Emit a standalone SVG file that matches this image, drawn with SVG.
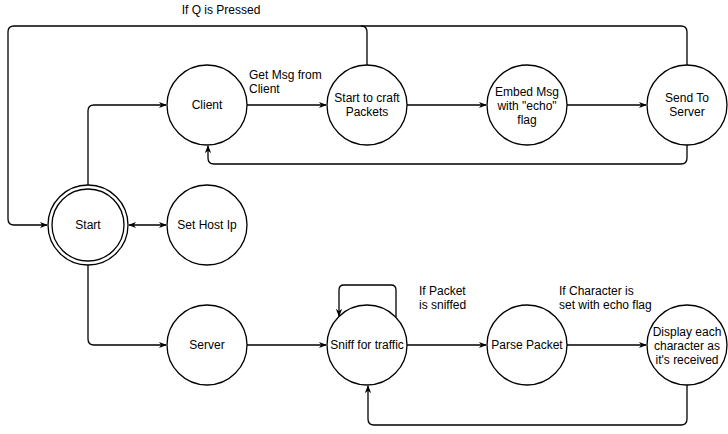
<svg xmlns="http://www.w3.org/2000/svg" width="728" height="434" viewBox="0 0 728 434">
<style>
.n{fill:#fff;stroke:#000;stroke-width:1.3}
.c{fill:none;stroke:#000;stroke-width:1.3}
text{font-family:"Liberation Sans",Arial,sans-serif;font-size:12px;fill:#000}
.m{text-anchor:middle}
</style>
<defs>
<marker id="a" viewBox="0 0 10 10" refX="9" refY="5" markerWidth="8" markerHeight="8" markerUnits="userSpaceOnUse" orient="auto-start-reverse">
<path d="M0,1 L10,5 L0,9 L3,5 Z" fill="#000"/>
</marker>
</defs>
<rect width="728" height="434" fill="#fff"/>
<g id="connectors">
<path class="c" d="M88,185 V111 Q88,105 94,105 H166" marker-end="url(#a)"/>
<path class="c" d="M88,265 V339 Q88,345 94,345 H166" marker-end="url(#a)"/>
<path class="c" d="M129,225 H166" marker-start="url(#a)" marker-end="url(#a)"/>
<path class="c" d="M247,105 H326" marker-end="url(#a)"/>
<path class="c" d="M407,105 H486" marker-end="url(#a)"/>
<path class="c" d="M567,105 H646" marker-end="url(#a)"/>
<path class="c" d="M687,145 V158 Q687,164 681,164 H214 Q208,164 208,158 V146" marker-end="url(#a)"/>
<path class="c" d="M367,65 V32 Q367,26 361,26 H14 Q8,26 8,32 V219 Q8,225 14,225 H47" marker-end="url(#a)"/>
<path class="c" d="M687,65 V32 Q687,26 681,26 H361"/>
<path class="c" d="M247,345 H326" marker-end="url(#a)"/>
<path class="c" d="M396,317 V290 Q396,285 391,285 H344 Q339,285 339,290 V316" marker-end="url(#a)"/>
<path class="c" d="M407,345 H486" marker-end="url(#a)"/>
<path class="c" d="M567,345 H646" marker-end="url(#a)"/>
<path class="c" d="M687,385 V419 Q687,425 681,425 H374 Q368,425 368,419 V386" marker-end="url(#a)"/>
<text class="m" x="221" y="14">If Q is Pressed</text>
<text x="249" y="79">Get Msg from</text>
<text x="249" y="93">Client</text>
<text x="419" y="295">If Packet</text>
<text x="419" y="309">is sniffed</text>
<text x="559" y="295">If Character is</text>
<text x="559" y="309">set with echo flag</text>
</g>
<g id="start"><circle class="n" cx="88" cy="225" r="40"/><circle class="n" cx="88" cy="225" r="36"/><text class="m" x="88" y="229">Start</text></g>
<g id="client"><circle class="n" cx="207" cy="105" r="40"/><text class="m" x="207" y="109">Client</text></g>
<g id="craft"><circle class="n" cx="367" cy="105" r="40"/><text class="m" x="367" y="102">Start to craft</text><text class="m" x="367" y="116">Packets</text></g>
<g id="embed"><circle class="n" cx="527" cy="105" r="40"/><text class="m" x="527" y="96">Embed Msg</text><text class="m" x="527" y="110">with "echo"</text><text class="m" x="527" y="124">flag</text></g>
<g id="send"><circle class="n" cx="687" cy="105" r="40"/><text class="m" x="687" y="102">Send To</text><text class="m" x="687" y="116">Server</text></g>
<g id="sethost"><circle class="n" cx="207" cy="225" r="40"/><text class="m" x="207" y="229">Set Host Ip</text></g>
<g id="server"><circle class="n" cx="207" cy="345" r="40"/><text class="m" x="207" y="349">Server</text></g>
<g id="sniff"><circle class="n" cx="367" cy="345" r="40"/><text class="m" x="367" y="349">Sniff for traffic</text></g>
<g id="parse"><circle class="n" cx="527" cy="345" r="40"/><text class="m" x="527" y="349">Parse Packet</text></g>
<g id="display"><circle class="n" cx="687" cy="345" r="40"/><text class="m" x="687" y="336">Display each</text><text class="m" x="687" y="350">character as</text><text class="m" x="687" y="364">it's received</text></g>
</svg>
